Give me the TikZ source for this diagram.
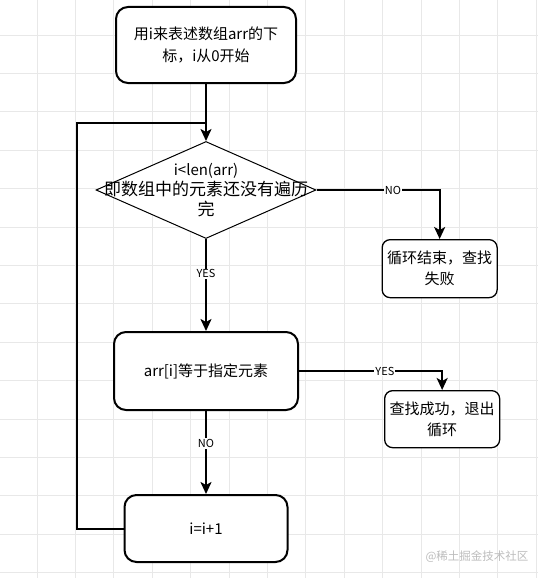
\documentclass[tikz,border=0pt]{standalone}
\usepackage{fontspec}
\setmainfont{Noto Sans CJK SC}
\usetikzlibrary{arrows.meta,positioning,shapes.geometric,calc}
\definecolor{gridgray}{HTML}{E8E8E8}
\definecolor{markgray}{HTML}{BDBDBD}

\begin{document}
\begin{tikzpicture}[x=1pt,y=-1pt,>={Stealth[length=12pt,width=11pt,inset=3pt]},
  proc/.style={draw,line width=2pt,fill=white,rounded corners=12pt,inner sep=0pt,align=center,font=\fontsize{15}{22}\selectfont},
  decide/.style={draw,diamond,line width=1pt,fill=white,inner sep=0pt,minimum width=220pt,minimum height=97pt},
  result/.style={draw,line width=1.3pt,fill=white,rounded corners=8pt,inner sep=0pt,align=center,minimum width=115pt,font=\fontsize{15}{21}\selectfont},
  flow/.style={line width=2pt},
  yn/.style={fill=white,inner sep=1pt,font=\fontsize{11}{11}\selectfont},
  gridline/.style={draw=gridgray,line width=0.8pt}]
  \fill[white] (0,0) rectangle (538,578);
  \useasboundingbox (0,0) rectangle (538,578);
  % background grid
  \foreach \k in {0,...,13}
    \draw[gridline] ({37+38.4*\k},0) -- ({37+38.4*\k},578);
  \foreach \k in {0,...,14}
    \draw[gridline] (0,{35+38.4*\k}) -- (538,{35+38.4*\k});

  \node[proc,minimum width=180pt,minimum height=76pt] (start) at (206,45) {用i来表述数组arr的下\\标，i从0开始};
  \node[decide,below=57pt of start] (test) {};
  \node[align=center,font=\fontsize{15}{20}\selectfont] (testtxt) at (test) {i<len(arr)\\{\fontsize{17}{21}\selectfont 即数组中的元素还没有遍历}\\{\fontsize{17}{21}\selectfont 完}};
  \node[proc,minimum width=184pt,minimum height=78pt,below=92pt of test] (check) {arr[i]等于指定元素};
  \node[proc,minimum width=163pt,minimum height=67pt,below=83pt of check] (incr) {i=i+1};
  \node[result,minimum height=58pt,below right=49pt and 65pt of test.east] (fail) {循环结束，查找\\失败};
  \node[result,minimum height=57pt,below right=19pt and 85pt of check.east] (found) {查找成功，退出\\循环};

  \coordinate (join) at ($(start.south)!0.68!(test.north)$);
  \draw[flow,->] (start) -- (test);
  \draw[flow,->] (test.east) -| node[yn,pos=0.31] {NO} (fail.north);
  \draw[flow,->] (test) -- node[yn,pos=0.38] {YES} (check);
  \draw[flow,->] (check.east) -| node[yn,pos=0.3] {YES} (found.north);
  \draw[flow,->] (check) -- node[yn,pos=0.39] {NO} (incr);
  \draw[flow] (incr.west) -- ++(-47pt,0) |- (join);

  \node[text=markgray,font=\fontsize{11.5}{12}\selectfont] (mark) at (477,557) {@稀土掘金技术社区};
\end{tikzpicture}
\end{document}
